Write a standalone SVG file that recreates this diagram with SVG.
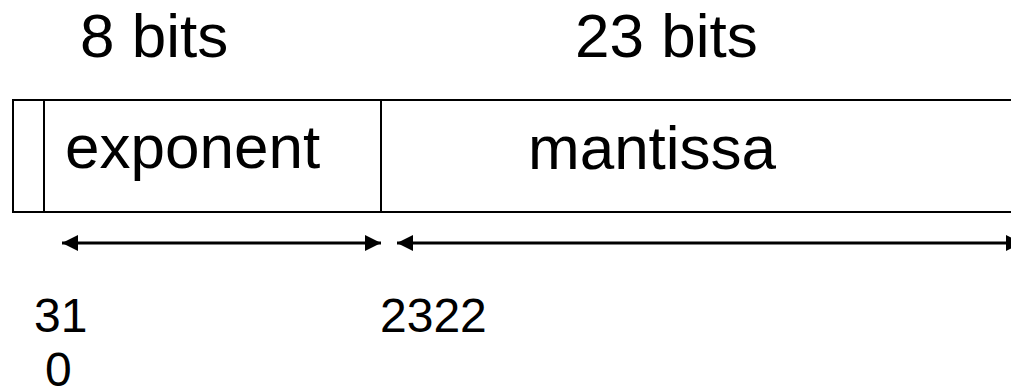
<svg xmlns="http://www.w3.org/2000/svg" width="1011" height="390" viewBox="0 0 1011 390">
  <style>
    .big { font-family: "Liberation Sans", Arial, sans-serif; font-size: 62px; fill: #000; }
    .num { font-family: "Liberation Sans", Arial, sans-serif; font-size: 48px; fill: #000; }
    .box { fill: none; stroke: #000; stroke-width: 2; }
    .arrow { stroke: #000; stroke-width: 3; fill: none; marker-start: url(#head); marker-end: url(#head); }
  </style>
  <defs>
    <marker id="head" viewBox="0 0 16 16" refX="16" refY="8" markerWidth="16" markerHeight="16" markerUnits="userSpaceOnUse" orient="auto-start-reverse">
      <path d="M0,0 L16,8 L0,16 Z" fill="#000"/>
    </marker>
  </defs>
  <rect width="1011" height="390" fill="#fff"/>

  <g id="label-8bits"><text class="big" x="80" y="57">8 bits</text></g>
  <g id="label-23bits"><text class="big" x="575" y="57">23 bits</text></g>

  <g id="sign">
    <path class="box" d="M1030,100 H13 V212 H1030"/>
    <line class="box" x1="44" y1="100" x2="44" y2="212"/>
  </g>
  <g id="exponent">
    <line class="box" x1="381" y1="100" x2="381" y2="212"/>
    <text class="big" x="65" y="168">exponent</text>
  </g>
  <g id="mantissa">
    <text class="big" x="528" y="169">mantissa</text>
  </g>

  <g id="connectors">
    <line class="arrow" x1="62" y1="243" x2="381" y2="243"/>
    <line class="arrow" x1="397" y1="243" x2="1022" y2="243"/>
  </g>

  <g id="bit-labels">
    <text class="num" x="34" y="332">31</text>
    <text class="num" x="45" y="386">0</text>
    <text class="num" x="380" y="332">2322</text>
  </g>
</svg>
